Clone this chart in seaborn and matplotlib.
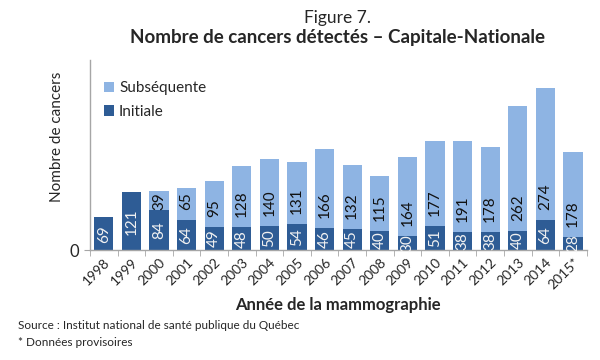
import numpy as np
import pandas as pd
import seaborn as sns
import matplotlib.pyplot as plt

years = ['1998', '1999', '2000', '2001', '2002', '2003', '2004', '2005', '2006',
         '2007', '2008', '2009', '2010', '2011', '2012', '2013', '2014', '2015*']
initiale = [69, 121, 84, 64, 49, 48, 50, 54, 46, 45, 40, 30, 51, 38, 38, 40, 64, 28]
subsequente = [0, 0, 39, 65, 95, 128, 140, 131, 166, 132, 115, 164, 177, 191, 178, 262, 274, 178]

dark = '#2E5C95'
light = '#8EB4E3'

sns.set_style('white')
plt.rcParams['font.family'] = ['Lato', 'DejaVu Sans']

df = pd.DataFrame({'annee': years, 'initiale': initiale, 'subsequente': subsequente})
df['total'] = df['initiale'] + df['subsequente']

fig = plt.figure(figsize=(6, 3.6), dpi=100)
ax = fig.add_axes([0.15, 0.305, 0.828, 0.528])

sns.barplot(data=df, x='annee', y='total', color=light, saturation=1, width=0.69,
            ax=ax, label='Subséquente', linewidth=0)
sns.barplot(data=df, x='annee', y='initiale', color=dark, saturation=1, width=0.69,
            ax=ax, label='Initiale', linewidth=0)

ax.set_ylim(0, 397)
ax.set_xlim(-0.5, len(years) - 0.5)

for i, (a, b) in enumerate(zip(initiale, subsequente)):
    ax.text(i, a / 2, str(a), rotation=90, ha='center', va='center', fontsize=11, color='#F2F2F2')
    if b > 0:
        if b < 50:
            ax.text(i, a + b / 2, str(b), rotation=90, ha='center', va='center', fontsize=11, color='#111111')
        else:
            ax.text(i, a + 21, str(b), rotation=90, ha='center', va='bottom', fontsize=11, color='#111111')

for s in ['top', 'right']:
    ax.spines[s].set_visible(False)
for s in ['left', 'bottom']:
    ax.spines[s].set_color('#A6A6A6')
    ax.spines[s].set_linewidth(1)

ax.set_yticks([0])
ax.set_yticklabels(['0'], fontsize=12)
ax.set_xticks(range(len(years)))
ax.set_xticklabels(years, rotation=45, ha='right', rotation_mode='anchor', fontsize=10)
ax.set_xticks(np.arange(-0.5, len(years), 1), minor=True)
ax.tick_params(axis='x', which='major', length=0, pad=4)
ax.tick_params(axis='x', which='minor', length=4, color='#A6A6A6', direction='out', bottom=True)
ax.tick_params(axis='y', length=4, color='#A6A6A6', direction='out', left=True)

ax.set_xlabel('Année de la mammographie', fontsize=12, fontweight='bold', labelpad=4)
ax.set_ylabel('')
fig.text(0.095, 0.62, 'Nombre de cancers', rotation=90, ha='center', va='center', fontsize=11)

h, l = ax.get_legend_handles_labels()
ax.legend(h, l, loc='upper left', bbox_to_anchor=(0.0, 0.96), frameon=False, fontsize=11,
          handlelength=0.7, handleheight=0.7, handletextpad=0.3, labelspacing=0.6)

fig.text(0.562, 0.95, 'Figure 7.', ha='center', va='center', fontsize=12.5)
fig.text(0.562, 0.897, 'Nombre de cancers détectés – Capitale-Nationale', ha='center', va='center',
         fontsize=13.5, fontweight='bold')
fig.text(0.03, 0.095, 'Source : Institut national de santé publique du Québec', ha='left', va='center', fontsize=8.5)
fig.text(0.03, 0.048, '* Données provisoires', ha='left', va='center', fontsize=8.5)

fig.savefig('out.png', dpi=100)
